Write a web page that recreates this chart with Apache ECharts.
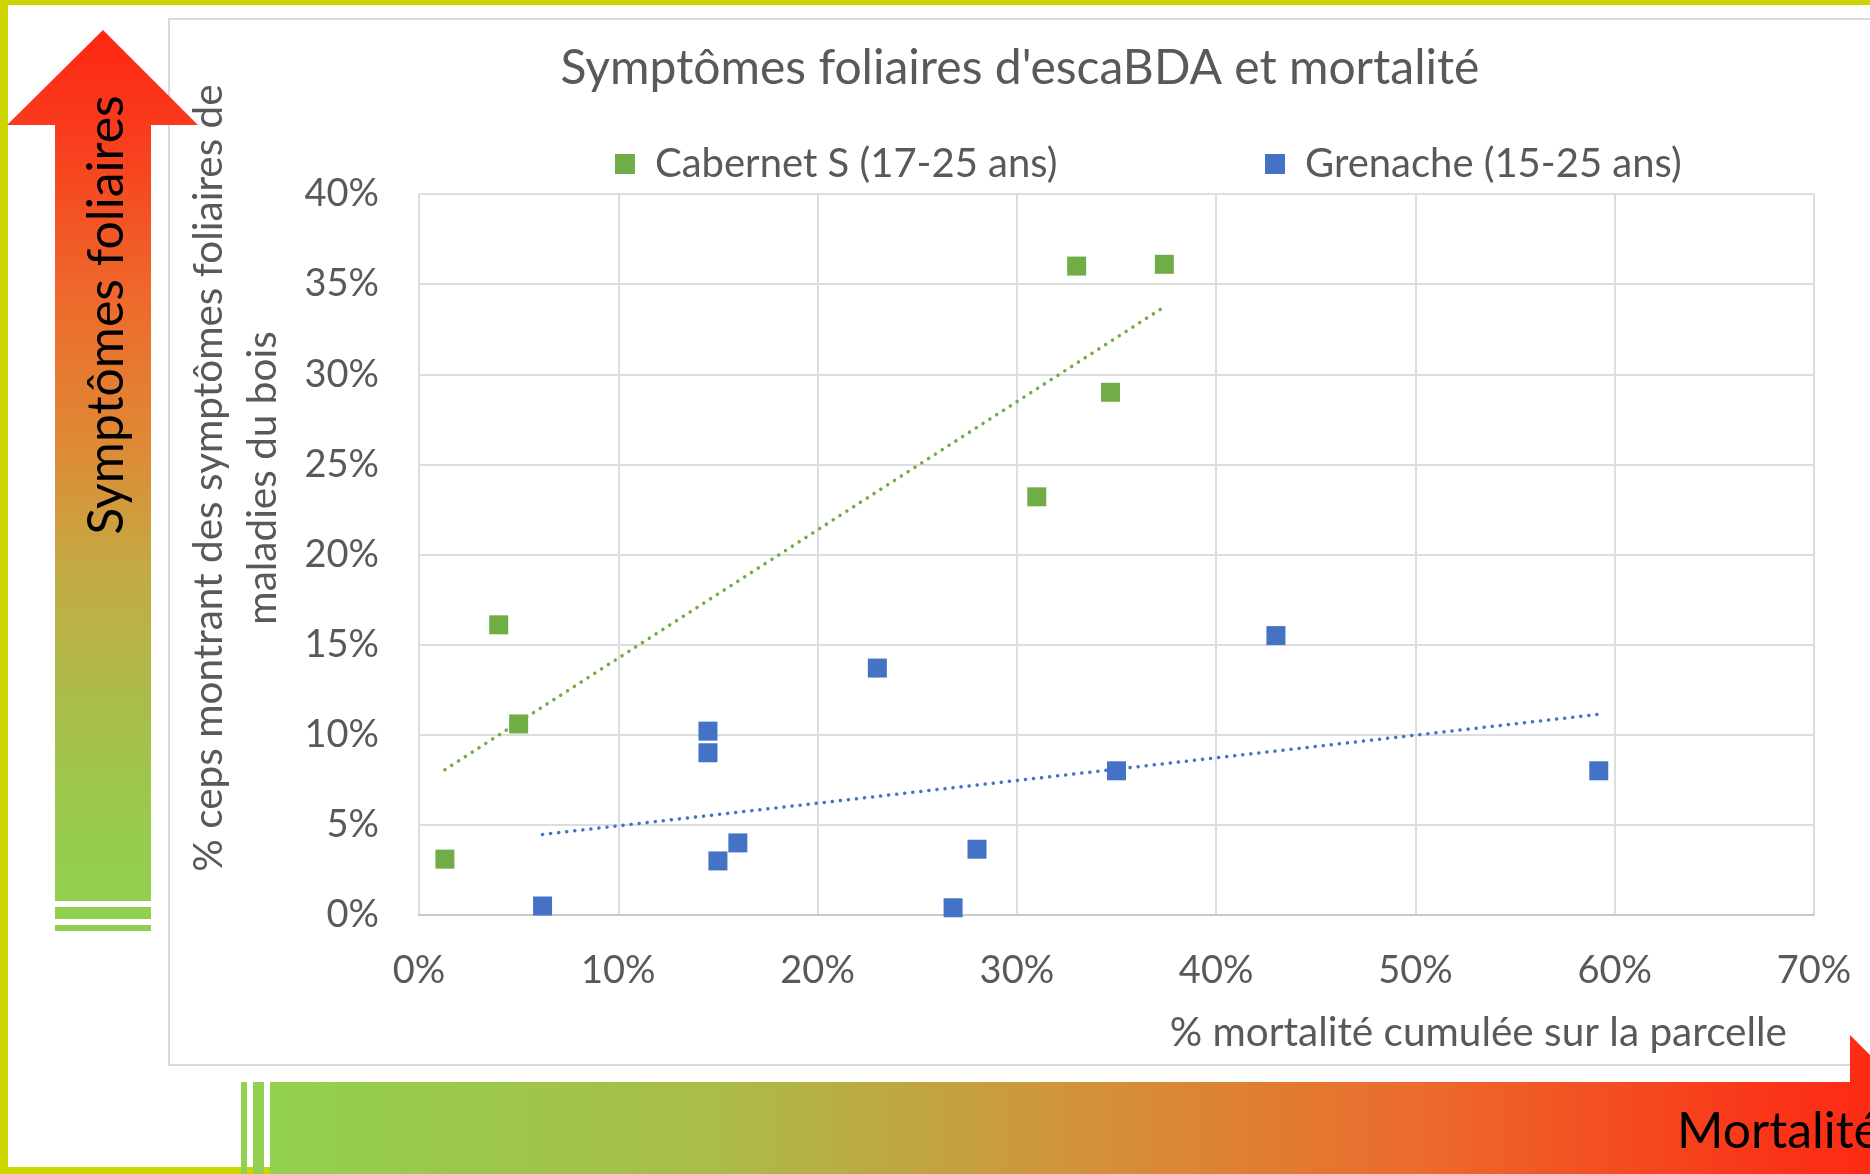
<!DOCTYPE html>
<html>
<head>
<meta charset="utf-8">
<title>Symptômes foliaires d'escaBDA et mortalité</title>
<script src="https://cdn.jsdelivr.net/npm/echarts@6/dist/echarts.min.js"></script>
<style>
  html, body { margin: 0; padding: 0; background: #fff; }
  #chart { width: 1870px; height: 1174px; }
</style>
</head>
<body>
<div id="chart"></div>
<script>
// valeurs (en %)
const cabernetName = "Cabernet S (17-25 ans)";
const cabernetMort = [1.3, 4.0, 5.0, 31.0, 33.0, 34.7, 37.4];
const cabernetSympt = [3.1, 16.1, 10.6, 23.2, 36.0, 29.0, 36.1];

const grenacheName = "Grenache (15-25 ans)";
const grenacheMort = [6.2, 14.5, 14.5, 15.0, 16.0, 23.0, 26.8, 28.0, 35.0, 43.0, 59.2];
const grenacheSympt = [0.5, 10.2, 9.0, 3.0, 4.0, 13.7, 0.4, 3.65, 8.0, 15.5, 8.0];

const xAxisMax = 70;
const xAxisStep = 10;
const yAxisMax = 40;
const yAxisStep = 5;

const green = "#70AD47";
const blue = "#4472C4";
const grey = "#595959";
const yellow = "#CCD500";
const font = "Lato";

// courbe de tendance linéaire (moindres carrés), comme dans Excel
function trendLine(xs, ys) {
  const n = xs.length;
  const mx = xs.reduce((a, b) => a + b, 0) / n;
  const my = ys.reduce((a, b) => a + b, 0) / n;
  let sxy = 0, sxx = 0;
  for (let i = 0; i < n; i++) {
    sxy += (xs[i] - mx) * (ys[i] - my);
    sxx += (xs[i] - mx) * (xs[i] - mx);
  }
  const slope = sxy / sxx;
  const b = my - slope * mx;
  const x0 = Math.min(...xs);
  const x1 = Math.max(...xs);
  return [[x0, b + slope * x0], [x1, b + slope * x1]];
}

const pairs = (xs, ys) => xs.map((x, i) => [x, ys[i]]);

const myChart = echarts.init(document.getElementById("chart"));

const legendStyle = {
  top: 144,
  padding: 0,
  icon: "rect",
  itemWidth: 20,
  itemHeight: 20,
  textStyle: { fontFamily: font, fontSize: 40, color: grey, padding: [0, 0, 0, 15] },
};

const option = {
  backgroundColor: "#fff",
  animation: false,
  title: {
    text: "Symptômes foliaires d'escaBDA et mortalité",
    left: 1015,
    top: 40,
    textAlign: "center",
    textStyle: { fontFamily: font, fontSize: 48, fontWeight: "normal", color: grey },
  },
  legend: [
    Object.assign({ data: [cabernetName], left: 615 }, legendStyle),
    Object.assign({ data: [grenacheName], left: 1265 }, legendStyle),
  ],
  grid: { left: 419, right: 56, top: 194, bottom: 259 },
  xAxis: {
    type: "value",
    min: 0,
    max: xAxisMax,
    interval: xAxisStep,
    axisLine: { show: true, lineStyle: { color: "#C8C8C8", width: 2 } },
    axisTick: { show: false },
    splitLine: { lineStyle: { color: "#DDDDDD", width: 2 } },
    axisLabel: { formatter: "{value}%", fontFamily: font, fontSize: 38, color: grey, margin: 37 },
  },
  yAxis: {
    type: "value",
    min: 0,
    max: yAxisMax,
    interval: yAxisStep,
    axisLine: { show: false },
    axisTick: { show: false },
    splitLine: { lineStyle: { color: "#DDDDDD", width: 2 } },
    axisLabel: { formatter: "{value}%", fontFamily: font, fontSize: 38, color: grey, margin: 40 },
  },
  series: [
    {
      name: cabernetName + " tendance",
      type: "line",
      data: trendLine(cabernetMort, cabernetSympt),
      symbol: "none",
      silent: true,
      lineStyle: { color: green, width: 3.5, type: [0.1, 8], cap: "round" },
    },
    {
      name: grenacheName + " tendance",
      type: "line",
      data: trendLine(grenacheMort, grenacheSympt),
      symbol: "none",
      silent: true,
      lineStyle: { color: blue, width: 3.5, type: [0.1, 8], cap: "round" },
    },
    {
      name: cabernetName,
      type: "scatter",
      symbol: "rect",
      symbolSize: 19,
      itemStyle: { color: green, opacity: 1 },
      data: pairs(cabernetMort, cabernetSympt),
    },
    {
      name: grenacheName,
      type: "scatter",
      symbol: "rect",
      symbolSize: 19,
      itemStyle: { color: blue, opacity: 1 },
      data: pairs(grenacheMort, grenacheSympt),
    },
  ],
  graphic: [
    // cadre du graphique
    {
      type: "rect",
      z: -10,
      shape: { x: 169, y: 19, width: 1800, height: 1046 },
      style: { fill: "#fff", stroke: "#D9D9D9", lineWidth: 2 },
    },
    // bordure jaune
    { type: "rect", shape: { x: 0, y: 0, width: 1870, height: 5 }, style: { fill: yellow } },
    { type: "rect", shape: { x: 0, y: 0, width: 8, height: 1174 }, style: { fill: yellow } },
    { type: "rect", shape: { x: 0, y: 1167, width: 1870, height: 7 }, style: { fill: yellow } },
    // flèche verticale : symptômes foliaires
    {
      type: "polygon",
      shape: {
        points: [[55, 901], [55, 125], [7, 125], [103, 30], [198, 125], [151, 125], [151, 901]],
      },
      style: {
        fill: new echarts.graphic.LinearGradient(0, 0, 0, 1, [
          { offset: 0, color: "#FF2712" },
          { offset: 0.11, color: "#F93A1C" },
          { offset: 0.31, color: "#EE6A2C" },
          { offset: 0.48, color: "#DE8A36" },
          { offset: 0.62, color: "#C4AA44" },
          { offset: 0.77, color: "#AABC4A" },
          { offset: 0.88, color: "#9CC84C" },
          { offset: 1, color: "#92D050" },
        ]),
      },
    },
    { type: "rect", shape: { x: 55, y: 907, width: 96, height: 12 }, style: { fill: "#92D050" } },
    { type: "rect", shape: { x: 55, y: 925, width: 96, height: 6 }, style: { fill: "#92D050" } },
    {
      type: "text",
      x: 107,
      y: 315,
      rotation: Math.PI / 2,
      style: {
        text: "Symptômes foliaires",
        fontFamily: font,
        fontSize: 50,
        fill: "#000",
        align: "center",
        verticalAlign: "middle",
      },
    },
    // flèche horizontale : mortalité
    {
      type: "polygon",
      shape: {
        points: [[270, 1082], [1850, 1082], [1850, 1035], [1945, 1130], [1850, 1225], [1850, 1178], [270, 1178]],
      },
      style: {
        fill: new echarts.graphic.LinearGradient(0, 0, 1, 0, [
          { offset: 0, color: "#92D050" },
          { offset: 0.26, color: "#A9BD49" },
          { offset: 0.48, color: "#D2933A" },
          { offset: 0.69, color: "#EC6A2C" },
          { offset: 0.9, color: "#FA3418" },
          { offset: 1, color: "#FF2410" },
        ]),
      },
    },
    { type: "rect", shape: { x: 241, y: 1082, width: 6, height: 96 }, style: { fill: "#92D050" } },
    { type: "rect", shape: { x: 253, y: 1082, width: 11, height: 96 }, style: { fill: "#92D050" } },
    {
      type: "text",
      x: 1677,
      y: 1132,
      style: {
        text: "Mortalité",
        fontFamily: font,
        fontSize: 50,
        fill: "#000",
        align: "left",
        verticalAlign: "middle",
      },
    },
    // titres des axes
    {
      type: "text",
      x: 236,
      y: 478,
      rotation: Math.PI / 2,
      style: {
        text: "% ceps montrant des symptômes foliaires de\nmaladies du bois",
        fontFamily: font,
        fontSize: 40.5,
        lineHeight: 54,
        fill: grey,
        align: "center",
        verticalAlign: "middle",
      },
    },
    {
      type: "text",
      x: 1787,
      y: 1033,
      style: {
        text: "% mortalité cumulée sur la parcelle",
        fontFamily: font,
        fontSize: 40.5,
        fill: grey,
        align: "right",
        verticalAlign: "middle",
      },
    },
  ],
};

myChart.setOption(option);
</script>
</body>
</html>
